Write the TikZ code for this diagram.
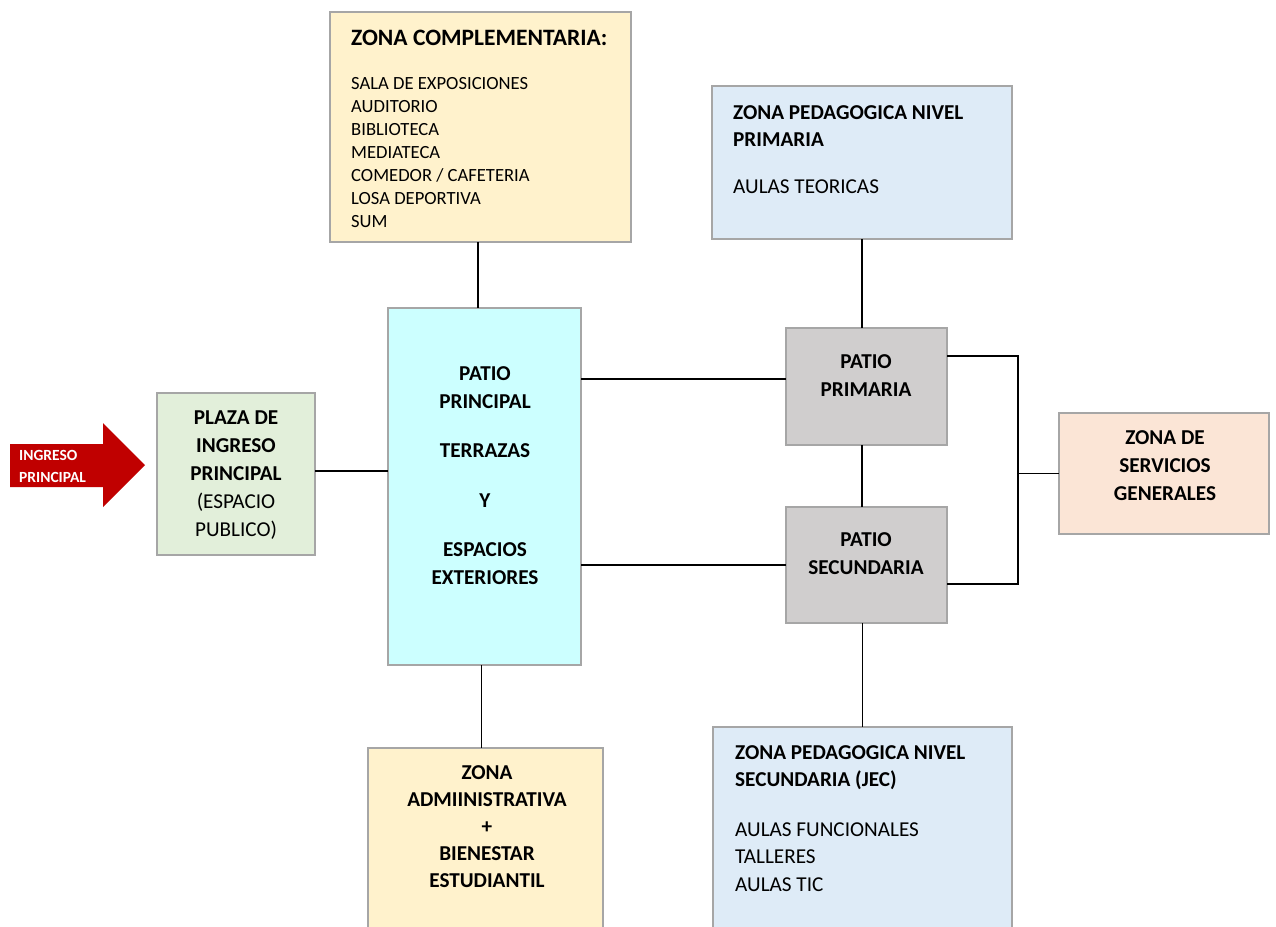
\documentclass[tikz,border=0pt]{standalone}
\usepackage{fontspec}
\setmainfont{Carlito}
\definecolor{bordergray}{HTML}{A6A6A6}
\definecolor{cream}{HTML}{FFF2CC}
\definecolor{paleblue}{HTML}{DEEBF7}
\definecolor{cyanpale}{HTML}{CCFFFF}
\definecolor{patiogray}{HTML}{D0CECE}
\definecolor{peach}{HTML}{FBE5D6}
\definecolor{palegreen}{HTML}{E2EFDA}
\definecolor{arrowred}{HTML}{C00000}
\begin{document}
\begin{tikzpicture}[x=1pt,y=-1pt,
  zonebox/.style={draw=bordergray, line width=2.4pt, rectangle},
  conn/.style={draw=black, line width=1.2pt},
  maintext/.style={inner sep=0pt, font=\fontsize{21.2}{28}\selectfont},
  ]
\useasboundingbox (0,0) rectangle (1276,926);
\clip (0,0) rectangle (1276,926);
% boxes
\path[zonebox, fill=cream] (330,12) rectangle (631,242);
\node[inner sep=0pt, minimum width=301pt, minimum height=230pt] (comp) at (480.5,127) {};
\path[zonebox, fill=paleblue] (712,86) rectangle (1012,239);
\node[inner sep=0pt, minimum width=300pt, minimum height=153pt] (prim) at (862,162.5) {};
\path[zonebox, fill=cyanpale] (388,308) rectangle (581,665);
\node[inner sep=0pt, minimum width=193pt, minimum height=357pt] (pp) at (484.5,486.5) {};
\path[zonebox, fill=palegreen] (157,393) rectangle (315,555);
\node[inner sep=0pt, minimum width=158pt, minimum height=162pt] (plaza) at (236,474) {};
\path[zonebox, fill=patiogray] (786,328) rectangle (947,445);
\node[inner sep=0pt, minimum width=161pt, minimum height=117pt] (patprim) at (866.5,386.5) {};
\path[zonebox, fill=patiogray] (786,507) rectangle (947,623);
\node[inner sep=0pt, minimum width=161pt, minimum height=116pt] (patsec) at (866.5,565) {};
\path[zonebox, fill=peach] (1059,413) rectangle (1269,534);
\node[inner sep=0pt, minimum width=210pt, minimum height=121pt] (serv) at (1164,473.5) {};
\path[zonebox, fill=cream] (368,748) rectangle (603,960);
\node[inner sep=0pt, minimum width=235pt, minimum height=212pt] (admin) at (485.5,854) {};
\path[zonebox, fill=paleblue] (713,727) rectangle (1012,960);
\node[inner sep=0pt, minimum width=299pt, minimum height=233pt] (sec) at (862.5,843.5) {};
% arrow
\path[fill=arrowred] (10,444) -- (103,444) -- (103,423) -- (145,465) -- (103,507) -- (103,487) -- (10,487) -- cycle;
\node[inner sep=0pt, anchor=west, align=left, text=white, font=\fontsize{15.5}{22}\selectfont\bfseries] (arrowtxt) at (19,466) {INGRESO\\PRINCIPAL};
% connectors
\coordinate (jt) at (1018,356);
\coordinate (jb) at (1018,584);
\draw[conn] ([xshift=-2.5pt]comp.south) -- ([xshift=-2.5pt]comp.south |- pp.north);
\draw[conn] ([xshift=-4pt]admin.north) -- ([xshift=-4pt]admin.north |- pp.south);
\draw[conn] ([yshift=3pt]plaza.east) -- ([yshift=3pt]plaza.east -| pp.west);
\draw[conn] ([yshift=7.5pt]patprim.west) -- ([yshift=7.5pt]patprim.west -| pp.east);
\draw[conn] (patsec.west) -- (patsec.west -| pp.east);
\draw[conn] (prim.south) -- (prim.south |- patprim.north);
\draw[conn] (prim.south |- patprim.south) -- (prim.south |- patsec.north);
\draw[conn] (sec.north) -- (sec.north |- patsec.south);
\draw[conn] (jt -| patprim.east) -- (jt) -- (jb) -- (jb -| patsec.east);
\draw[conn] (serv.west) -- (serv.west -| jt);
% texts
\node[inner sep=0pt, anchor=west, font=\fontsize{23.5}{28}\selectfont\bfseries] (comp-h) at (351,38) {ZONA COMPLEMENTARIA:};
\node[inner sep=0pt, anchor=west, align=left, font=\fontsize{18.6}{23}\selectfont] (comp-l) at (351,153) {SALA DE EXPOSICIONES\\AUDITORIO\\BIBLIOTECA\\MEDIATECA\\COMEDOR / CAFETERIA\\LOSA DEPORTIVA\\SUM};
\node[maintext, anchor=west, align=left, font=\fontsize{21.2}{27}\selectfont] (prim-t) at (733,150) {\textbf{ZONA PEDAGOGICA NIVEL}\\\textbf{PRIMARIA}\\[20pt]AULAS TEORICAS};
\node[maintext, anchor=west, align=left, font=\fontsize{21.2}{27.5}\selectfont] (sec-t) at (735,818.5) {\textbf{ZONA PEDAGOGICA NIVEL}\\\textbf{SECUNDARIA (JEC)}\\[22pt]AULAS FUNCIONALES\\TALLERES\\AULAS TIC};
\node[maintext, align=center] (plaza-t) at (236,475) {\textbf{PLAZA DE}\\\textbf{INGRESO}\\\textbf{PRINCIPAL}\\(ESPACIO\\PUBLICO)};
\node[maintext, align=center, font=\fontsize{21.2}{28}\selectfont\bfseries] (pp-t) at (485,475.5) {PATIO\\PRINCIPAL\\[21pt]TERRAZAS\\[22pt]Y\\[21pt]ESPACIOS\\EXTERIORES};
\node[maintext, align=center, font=\fontsize{21.2}{28}\selectfont\bfseries] (patprim-t) at (866,376) {PATIO\\PRIMARIA};
\node[maintext, align=center, font=\fontsize{21.2}{28}\selectfont\bfseries] (patsec-t) at (866,554) {PATIO\\SECUNDARIA};
\node[maintext, align=center, font=\fontsize{21.2}{28}\selectfont\bfseries] (serv-t) at (1165,466) {ZONA DE\\SERVICIOS\\GENERALES};
\node[maintext, align=center, font=\fontsize{21.2}{27}\selectfont\bfseries] (admin-t) at (487,826.5) {ZONA\\ADMIINISTRATIVA\\+\\BIENESTAR\\ESTUDIANTIL};
\end{tikzpicture}
\end{document}
